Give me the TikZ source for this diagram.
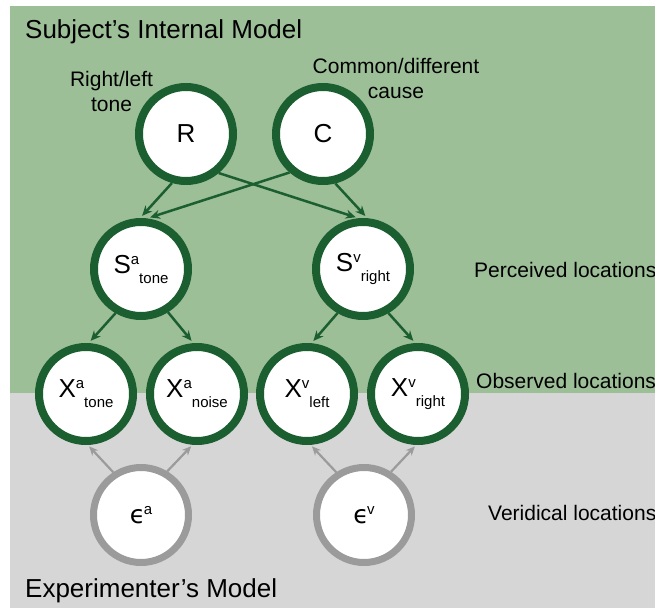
\documentclass[tikz,border=0pt]{standalone}
\usepackage{fontspec}
\setmainfont{Liberation Sans}
\newfontfamily\greekfont{DejaVu Sans}
\usetikzlibrary{arrows.meta}

\definecolor{bggreen}{HTML}{9DBF98}
\definecolor{ringgreen}{HTML}{1B5E30}
\definecolor{bggray}{HTML}{D6D6D6}
\definecolor{ringgray}{HTML}{9B9B9B}

\newcommand{\supsub}[3]{#1\raisebox{9pt}{\fontsize{15}{15}\selectfont #2}\raisebox{-10pt}{\fontsize{15}{15}\selectfont #3}}
\newcommand{\noisevar}[1]{{\greekfont ϵ}\kern-1.5pt\raisebox{9pt}{\fontsize{15}{15}\selectfont #1}}

\begin{document}
\begin{tikzpicture}[x=1pt, y=-1pt,
  var/.style={circle, draw=ringgreen, line width=8pt, fill=white, minimum size=94pt, inner sep=0pt, font=\fontsize{26}{26}\selectfont},
  noise/.style={circle, draw=ringgray, line width=7pt, fill=white, minimum size=95pt, inner sep=0pt, font=\fontsize{25}{25}\selectfont},
  edge/.style={draw=ringgreen, line width=2.5pt, -{Stealth[length=10pt, width=9pt]}, shorten >=3pt},
  noiseedge/.style={draw=ringgray, line width=2.2pt, -{Stealth[length=9pt, width=8pt]}, shorten >=2pt},
  note/.style={font=\fontsize{21}{25}\selectfont, align=center, inner sep=0pt},
  heading/.style={font=\fontsize{26}{30}\selectfont, anchor=base west, inner sep=0pt}]

\useasboundingbox (0,0) rectangle (655,609);
\clip (0,0) rectangle (655,609);
\fill[white] (0,0) rectangle (655,609);
\fill[bggreen] (10,6) rectangle (655,393);
\fill[bggray] (10,393) rectangle (655,608);

\node[heading] (subj) at (25,39) {Subject’s Internal Model};
\node[heading] (expt) at (25,597) {Experimenter’s Model};

% internal model
\node[var] (R) at (186,134) {R};
\node[var] (C) at (323,134) {C};
\node[note] (Rlab) at (111.5,91) {Right/left\\tone};
\node[note] (Clab) at (396,78) {Common/different\\cause};

\node[var] (Sa) at (141,269) {\supsub{S}{a}{tone}};
\node[var] (Sv) at (363,269) {\supsub{S}{v}{right}};

\node[var] (Xt) at (86,394) {\supsub{X}{a}{tone}};
\node[var] (Xn) at (197,394) {\supsub{X}{a}{noise}};
\node[var] (Xl) at (307,394) {\supsub{X}{v}{left}};
\node[var] (Xr) at (418,394) {\supsub{X}{v}{right}};

% experimenter
\node[noise] (Ea) at (141,515) {\noisevar{a}};
\node[noise] (Ev) at (364,515) {\noisevar{v}};

\node[note, anchor=base west] (perc) at (474,277) {Perceived locations};
\node[note, anchor=base west] (obs) at (476,388) {Observed locations};
\node[note, anchor=base west] (verid) at (488,520) {Veridical locations};

\draw[edge] (R.-106) -- (Sa.91);
\draw[edge] (R.-50) -- (Sv.95);
\draw[edge] (C.-131) -- (Sa.83);
\draw[edge] (C.-76) -- (Sv.85);
\draw[edge] (Sa.-120) -- (Xt.87);
\draw[edge] (Sa.-58) -- (Xn.94);
\draw[edge] (Sv.-120) -- (Xl.85);
\draw[edge] (Sv.-60) -- (Xr.93);

\draw[noiseedge] (Ea.123) -- (Xt.-88);
\draw[noiseedge] (Ea.59) -- (Xn.-95);
\draw[noiseedge] (Ev.123) -- (Xl.-86);
\draw[noiseedge] (Ev.58) -- (Xr.-92);
\end{tikzpicture}
\end{document}
